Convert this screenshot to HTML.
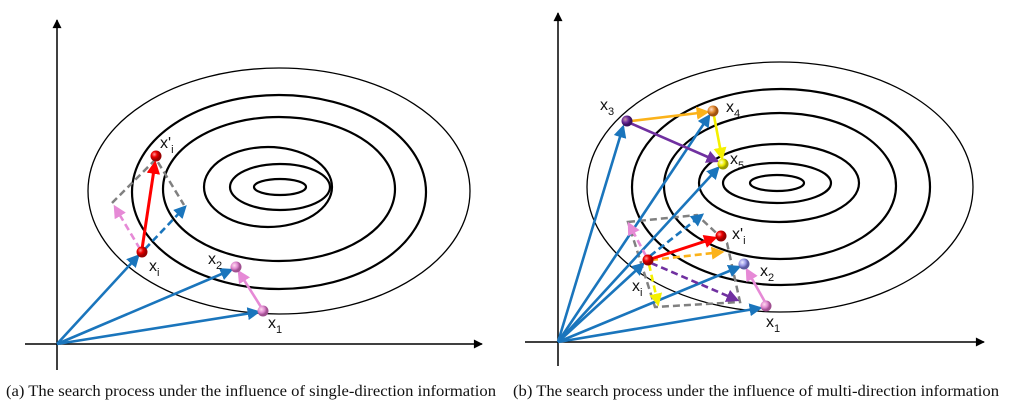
<!DOCTYPE html>
<html><head><meta charset="utf-8"><style>
body{margin:0;background:#fff}
svg{display:block}
.lbl{font-family:"Liberation Sans",sans-serif;font-size:16px;fill:#111}
.sub{font-size:11px}
.cap{font-family:"Liberation Serif",serif;font-size:16px;fill:#111}
</style></head><body>
<svg width="1013" height="404" viewBox="0 0 1013 404">
<defs>
<marker id="ak" viewBox="0 0 10 10" refX="9" refY="5" markerWidth="10" markerHeight="9" markerUnits="userSpaceOnUse" orient="auto"><path d="M0,0L10,5L0,10z" fill="#000"/></marker>
<marker id="ab" viewBox="0 0 10 10" refX="8" refY="5" markerWidth="5" markerHeight="5" orient="auto"><path d="M0,0L10,5L0,10z" fill="#1a75bc"/></marker>
<marker id="ar" viewBox="0 0 10 10" refX="8" refY="5" markerWidth="4.5" markerHeight="4.5" orient="auto"><path d="M0,0L10,5L0,10z" fill="#f00"/></marker>
<marker id="ap" viewBox="0 0 10 10" refX="8" refY="5" markerWidth="5" markerHeight="5" orient="auto"><path d="M0,0L10,5L0,10z" fill="#e68ad6"/></marker>
<marker id="ao" viewBox="0 0 10 10" refX="8" refY="5" markerWidth="5" markerHeight="5" orient="auto"><path d="M0,0L10,5L0,10z" fill="#fbb21a"/></marker>
<marker id="ay" viewBox="0 0 10 10" refX="8" refY="5" markerWidth="5" markerHeight="5" orient="auto"><path d="M0,0L10,5L0,10z" fill="#f5f000"/></marker>
<marker id="av" viewBox="0 0 10 10" refX="8" refY="5" markerWidth="5" markerHeight="5" orient="auto"><path d="M0,0L10,5L0,10z" fill="#7030a0"/></marker>
<radialGradient id="gr" cx="35%" cy="35%"><stop offset="0" stop-color="#ff9a9a"/><stop offset=".5" stop-color="#e00"/><stop offset="1" stop-color="#900"/></radialGradient>
<radialGradient id="gp" cx="35%" cy="35%"><stop offset="0" stop-color="#fde"/><stop offset=".6" stop-color="#e08ad0"/><stop offset="1" stop-color="#a05090"/></radialGradient>
<radialGradient id="gv" cx="35%" cy="35%"><stop offset="0" stop-color="#c9a"/><stop offset=".6" stop-color="#6a2a9a"/><stop offset="1" stop-color="#3a1060"/></radialGradient>
<radialGradient id="go" cx="35%" cy="35%"><stop offset="0" stop-color="#fdc"/><stop offset=".6" stop-color="#e08a30"/><stop offset="1" stop-color="#a05010"/></radialGradient>
<radialGradient id="gy" cx="35%" cy="35%"><stop offset="0" stop-color="#ffd"/><stop offset=".6" stop-color="#ee0"/><stop offset="1" stop-color="#990"/></radialGradient>
<radialGradient id="gl" cx="35%" cy="35%"><stop offset="0" stop-color="#eef"/><stop offset=".6" stop-color="#9a9ae8"/><stop offset="1" stop-color="#5a5aa0"/></radialGradient>
</defs>

<!-- Panel A -->
<g>
<line x1="57" y1="370" x2="57" y2="20" stroke="#000" stroke-width="1.5" marker-end="url(#ak)"/>
<line x1="25" y1="344" x2="482" y2="344" stroke="#000" stroke-width="1.5" marker-end="url(#ak)"/>
<g fill="none" stroke="#000">
<ellipse cx="279" cy="191" rx="191" ry="123" stroke-width="1.3"/>
<ellipse cx="279" cy="192" rx="147" ry="97" stroke-width="2.2"/>
<ellipse cx="279" cy="189" rx="116" ry="72" stroke-width="2.2"/>
<ellipse cx="268" cy="187" rx="64" ry="40" stroke-width="2.2"/>
<ellipse cx="280" cy="187" rx="50" ry="23" stroke-width="2.2"/>
<ellipse cx="280" cy="187" rx="26" ry="8" stroke-width="2.2"/>
</g>
<polyline points="112,203 156,159 184,205" fill="none" stroke="#808080" stroke-width="2.5" stroke-dasharray="7,4"/>
<g stroke-width="2.6" fill="none">
<line x1="57" y1="344" x2="138" y2="256" stroke="#1a75bc" marker-end="url(#ab)"/>
<line x1="57" y1="344" x2="231" y2="270" stroke="#1a75bc" marker-end="url(#ab)"/>
<line x1="57" y1="344" x2="258" y2="312" stroke="#1a75bc" marker-end="url(#ab)"/>
<line x1="261" y1="307" x2="239" y2="272" stroke="#e68ad6" marker-end="url(#ap)"/>
<line x1="140" y1="249" x2="115" y2="207" stroke="#e68ad6" stroke-dasharray="7,4" marker-end="url(#ap)"/>
<line x1="145" y1="249" x2="185" y2="207" stroke="#1a75bc" stroke-dasharray="7,4" marker-end="url(#ab)"/>
<line x1="142" y1="249" x2="155" y2="163" stroke="#f00" stroke-width="3" marker-end="url(#ar)"/>
</g>
<circle cx="156" cy="156" r="5.5" fill="url(#gr)"/>
<circle cx="142" cy="252" r="5.5" fill="url(#gr)"/>
<circle cx="236" cy="267" r="5.5" fill="url(#gp)"/>
<circle cx="263" cy="311" r="5.5" fill="url(#gp)"/>
<text class="lbl" x="160" y="148">x'<tspan class="sub" dy="5">i</tspan></text>
<text class="lbl" x="149" y="271">x<tspan class="sub" dy="5">i</tspan></text>
<text class="lbl" x="208" y="264">x<tspan class="sub" dy="5">2</tspan></text>
<text class="lbl" x="268" y="328">x<tspan class="sub" dy="5">1</tspan></text>
<text class="cap" x="6" y="396" textLength="490" lengthAdjust="spacingAndGlyphs">(a)  The search process under the influence of single-direction information</text>
</g>

<!-- Panel B -->
<g>
<line x1="558" y1="366" x2="558" y2="13" stroke="#000" stroke-width="1.5" marker-end="url(#ak)"/>
<line x1="525" y1="342" x2="984" y2="342" stroke="#000" stroke-width="1.5" marker-end="url(#ak)"/>
<g fill="none" stroke="#000">
<ellipse cx="780" cy="187" rx="193" ry="125" stroke-width="1.3"/>
<ellipse cx="781" cy="187" rx="149" ry="98" stroke-width="2.2"/>
<ellipse cx="780" cy="186" rx="116" ry="73" stroke-width="2.2"/>
<ellipse cx="779" cy="183" rx="80" ry="39" stroke-width="2.2"/>
<ellipse cx="777" cy="183" rx="54" ry="20" stroke-width="2.2"/>
<ellipse cx="777" cy="183" rx="27" ry="8" stroke-width="2.2"/>
</g>
<polygon points="628,222 697,215 727,243 740,302 655,307" fill="none" stroke="#808080" stroke-width="2.5" stroke-dasharray="7,4"/>
<g stroke-width="2.6" fill="none">
<line x1="558" y1="342" x2="623" y2="127" stroke="#1a75bc" marker-end="url(#ab)"/>
<line x1="558" y1="342" x2="709" y2="116" stroke="#1a75bc" marker-end="url(#ab)"/>
<line x1="558" y1="342" x2="718" y2="168" stroke="#1a75bc" marker-end="url(#ab)"/>
<line x1="558" y1="342" x2="643" y2="264" stroke="#1a75bc" marker-end="url(#ab)"/>
<line x1="558" y1="342" x2="739" y2="267" stroke="#1a75bc" marker-end="url(#ab)"/>
<line x1="558" y1="342" x2="760" y2="308" stroke="#1a75bc" marker-end="url(#ab)"/>
<line x1="631" y1="121" x2="707" y2="112" stroke="#fbb21a" marker-end="url(#ao)"/>
<line x1="714" y1="116" x2="722" y2="158" stroke="#f5f000" marker-end="url(#ay)"/>
<line x1="630" y1="123" x2="717" y2="161" stroke="#7030a0" marker-end="url(#av)"/>
<line x1="765" y1="302" x2="747" y2="270" stroke="#e68ad6" marker-end="url(#ap)"/>
<line x1="646" y1="256" x2="629" y2="224" stroke="#e68ad6" stroke-dasharray="7,4" marker-end="url(#ap)"/>
<line x1="650" y1="256" x2="702" y2="215" stroke="#1a75bc" stroke-dasharray="7,4" marker-end="url(#ab)"/>
<line x1="651" y1="260" x2="722" y2="252" stroke="#fbb21a" stroke-dasharray="7,4" marker-end="url(#ao)"/>
<line x1="651" y1="263" x2="737" y2="300" stroke="#7030a0" stroke-dasharray="7,4" marker-end="url(#av)"/>
<line x1="649" y1="264" x2="658" y2="304" stroke="#f5f000" stroke-dasharray="7,4" marker-end="url(#ay)"/>
<line x1="651" y1="259" x2="715" y2="238" stroke="#f00" stroke-width="3" marker-end="url(#ar)"/>
</g>
<circle cx="627" cy="121" r="5.5" fill="url(#gv)"/>
<circle cx="713" cy="111" r="5.5" fill="url(#go)"/>
<circle cx="723" cy="164" r="5.5" fill="url(#gy)"/>
<circle cx="721" cy="236" r="5.5" fill="url(#gr)"/>
<circle cx="648" cy="260" r="5.5" fill="url(#gr)"/>
<circle cx="744" cy="264" r="5.5" fill="url(#gl)"/>
<circle cx="766" cy="306" r="5.5" fill="url(#gp)"/>
<text class="lbl" x="600" y="110">x<tspan class="sub" dy="5">3</tspan></text>
<text class="lbl" x="726" y="112">x<tspan class="sub" dy="5">4</tspan></text>
<text class="lbl" x="730" y="164">x<tspan class="sub" dy="5">5</tspan></text>
<text class="lbl" x="732" y="239">x'<tspan class="sub" dy="5">i</tspan></text>
<text class="lbl" x="760" y="276">x<tspan class="sub" dy="5">2</tspan></text>
<text class="lbl" x="632" y="291">x<tspan class="sub" dy="5">i</tspan></text>
<text class="lbl" x="766" y="327">x<tspan class="sub" dy="5">1</tspan></text>
<text class="cap" x="513" y="396" textLength="486" lengthAdjust="spacingAndGlyphs">(b)  The search process under the influence of multi-direction information</text>
</g>
</svg>
</body></html>
